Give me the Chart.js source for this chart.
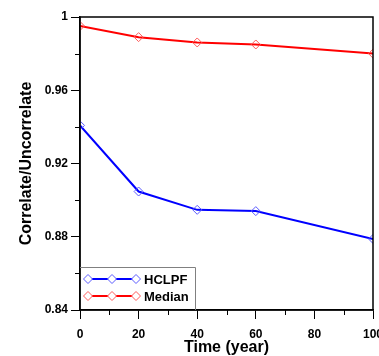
<!DOCTYPE html>
<html lang="en">
<head>
    <meta charset="UTF-8">
    <title>Correlate/Uncorrelate</title>
    <style>
        * { box-sizing: border-box; margin: 0; padding: 0; }
        body { background: #fff; width: 379px; height: 356px; overflow: hidden; }
        #wrap { width: 379px; height: 356px; }
    </style>
    <script src="https://cdn.jsdelivr.net/npm/chart.js"></script>
</head>
<body>
    <div id="wrap"><canvas id="chart" width="379" height="356"></canvas></div>
    <script>
        // data
        const years = [0, 20, 40, 60, 100];
        const hclpf = [0.9408, 0.9047, 0.8947, 0.8940, 0.8788];
        const median = [0.9951, 0.9890, 0.9861, 0.9850, 0.9800];
        const seriesNames = ['HCLPF', 'Median'];
        const seriesColors = ['#0000ff', '#ff0000'];
        const markerColors = ['#5a5aff', '#ff5a5a'];
        const xMinorTicks = [10, 30, 50, 70, 90];
        const yMinorTicks = [0.86, 0.90, 0.94, 0.98];

        const font = 'Arial, "Liberation Sans", sans-serif';

        function toPoints(ys) {
            return years.map((x, i) => ({ x: x, y: ys[i] }));
        }

        // frame, short minor ticks and the legend box in the lower-left corner
        const framePlugin = {
            id: 'frame',
            afterDraw(chart) {
                const ctx = chart.ctx;
                const a = chart.chartArea;
                ctx.save();
                ctx.strokeStyle = '#000';
                ctx.lineWidth = 1.5;
                ctx.strokeRect(a.left, a.top, a.right - a.left, a.bottom - a.top);

                // minor ticks
                ctx.lineWidth = 1;
                ctx.beginPath();
                xMinorTicks.forEach(v => {
                    const px = Math.round(chart.scales.x.getPixelForValue(v)) + 0.5;
                    ctx.moveTo(px, a.bottom);
                    ctx.lineTo(px, a.bottom + 5);
                });
                yMinorTicks.forEach(v => {
                    const py = Math.round(chart.scales.y.getPixelForValue(v)) + 0.5;
                    ctx.moveTo(a.left, py);
                    ctx.lineTo(a.left - 5, py);
                });
                ctx.stroke();

                // legend
                const bx = a.left, bw = 115, bh = 43, by = a.bottom - bh;
                ctx.fillStyle = '#fff';
                ctx.fillRect(bx + 1, by, bw, bh - 1);
                ctx.strokeStyle = '#808080';
                ctx.lineWidth = 1;
                ctx.beginPath();
                ctx.moveTo(bx, by + 0.5);
                ctx.lineTo(bx + bw + 0.5, by + 0.5);
                ctx.lineTo(bx + bw + 0.5, a.bottom);
                ctx.stroke();

                chart.data.datasets.forEach((ds, i) => {
                    const y = by + 12 + i * 17;
                    const x0 = bx + 8, x1 = bx + 56;
                    ctx.strokeStyle = ds.borderColor;
                    ctx.lineWidth = 2;
                    ctx.beginPath();
                    ctx.moveTo(x0, y);
                    ctx.lineTo(x1, y);
                    ctx.stroke();
                    [x0, (x0 + x1) / 2, x1].forEach(px => {
                        ctx.fillStyle = '#fff';
                        ctx.strokeStyle = ds.pointBorderColor;
                        ctx.lineWidth = 1;
                        ctx.beginPath();
                        ctx.moveTo(px, y - 4.5);
                        ctx.lineTo(px + 4.5, y);
                        ctx.lineTo(px, y + 4.5);
                        ctx.lineTo(px - 4.5, y);
                        ctx.closePath();
                        ctx.fill();
                        ctx.stroke();
                    });
                    ctx.fillStyle = '#000';
                    ctx.font = 'bold 13px ' + font;
                    ctx.textBaseline = 'middle';
                    ctx.textAlign = 'left';
                    ctx.fillText(ds.label, x1 + 8, y + 1);
                });
                ctx.restore();
            }
        };

        const datasets = [hclpf, median].map((ys, i) => ({
            label: seriesNames[i],
            data: toPoints(ys),
            borderColor: seriesColors[i],
            borderWidth: 2,
            pointStyle: 'rectRot',
            pointRadius: 4.5,
            pointBorderWidth: 1,
            pointBorderColor: markerColors[i],
            pointBackgroundColor: 'rgba(255,255,255,0)',
            tension: 0
        }));

        new Chart(document.getElementById('chart'), {
            type: 'line',
            data: { datasets: datasets },
            options: {
                responsive: false,
                animation: false,
                layout: { padding: { top: 17, right: 6, left: 0, bottom: 0 } },
                plugins: { legend: { display: false }, tooltip: { enabled: false } },
                scales: {
                    x: {
                        type: 'linear',
                        min: 0,
                        max: 100,
                        afterBuildTicks(scale) {
                            const t = [];
                            for (let v = 0; v <= 100; v += 20) t.push({ value: v });
                            scale.ticks = t;
                        },
                        afterFit(scale) {
                            scale.height = 46;
                            scale.paddingLeft = 0;
                            scale.paddingRight = 0;
                        },
                        ticks: {
                            autoSkip: false,
                            maxRotation: 0,
                            padding: 8,
                            color: '#000',
                            font: { family: font, size: 12, weight: 'bold' }
                        },
                        grid: { drawOnChartArea: false, tickLength: 9, color: '#000', tickWidth: 1 },
                        border: { display: true, color: '#000', width: 1.5 },
                        title: {
                            display: true,
                            text: 'Time (year)',
                            color: '#000',
                            padding: { top: 0, bottom: -1 },
                            font: { family: font, size: 16, weight: 'bold' }
                        }
                    },
                    y: {
                        min: 0.84,
                        max: 1,
                        afterBuildTicks(scale) {
                            const t = [];
                            for (let k = 0; k <= 4; k++) t.push({ value: 0.84 + k * 0.04 });
                            scale.ticks = t;
                        },
                        afterFit(scale) {
                            scale.width = 80;
                            scale.paddingTop = 0;
                            scale.paddingBottom = 0;
                        },
                        ticks: {
                            autoSkip: false,
                            padding: 3,
                            color: '#000',
                            font: { family: font, size: 12, weight: 'bold' },
                            callback: v => String(Math.round(v * 100) / 100)
                        },
                        grid: { drawOnChartArea: false, tickLength: 9, color: '#000', tickWidth: 1 },
                        border: { display: true, color: '#000', width: 1.5 },
                        title: {
                            display: true,
                            text: 'Correlate/Uncorrelate',
                            color: '#000',
                            padding: { top: 17, bottom: 0 },
                            font: { family: font, size: 16, weight: 'bold' }
                        }
                    }
                }
            },
            plugins: [framePlugin]
        });
    </script>
</body>
</html>
